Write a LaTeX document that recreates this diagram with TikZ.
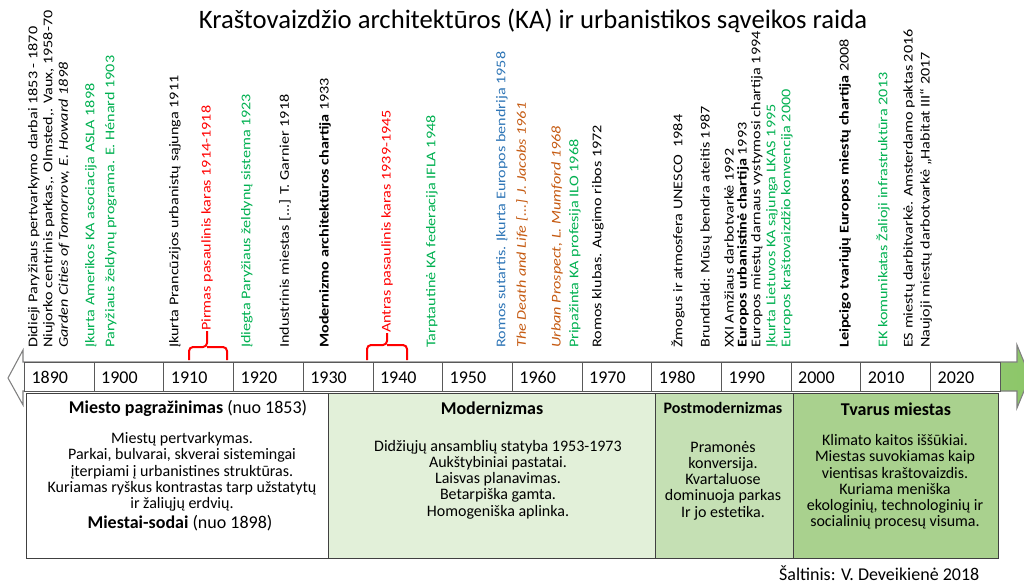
\documentclass[tikz,border=0pt]{standalone}
\usepackage{fontspec}
\setmainfont{Carlito}
\newfontfamily\eventfont{Carlito}[FakeStretch=1.212]
\usepackage{tikz}
\usetikzlibrary{positioning}
\definecolor{kagreen}{RGB}{0,176,80}
\definecolor{kablue}{RGB}{46,117,182}
\definecolor{kaorange}{RGB}{197,90,17}
\definecolor{phasemod}{RGB}{226,240,217}
\definecolor{phasepost}{RGB}{197,224,180}
\definecolor{phasesust}{RGB}{169,209,142}
\definecolor{arrowgreen}{RGB}{140,198,104}
\definecolor{framegray}{RGB}{64,64,64}
\tikzset{
    event/.style={rotate=90,anchor=west,inner sep=0pt,font=\eventfont\fontsize{10}{10}\selectfont},
    event it/.style={event,font=\eventfont\fontsize{10}{10}\selectfont\itshape},
    green event/.style={event,text=kagreen},
    war/.style={event,text=red},
    war brace/.style={red,line width=1.5pt,rounded corners=3pt},
    year cell/.style={draw=gray!70!black,line width=0.8pt,fill=white,anchor=north west,
        minimum width=52.3pt,minimum height=21.75pt,text width=41.8pt,inner xsep=5.25pt,
        text height=9pt,text depth=0pt,align=left,font=\fontsize{13.5}{14}\selectfont},
    phase box/.style={draw=framegray,line width=1.1pt,anchor=north west,minimum height=123.75pt},
    phase title/.style={font=\fontsize{13.5}{14}\selectfont},
    phase text/.style={align=center,font=\fontsize{12}{12.2}\selectfont},
}
\tikzstyle{every node}=[font=\fontsize{12}{12}\selectfont]
\begin{document}
\begin{tikzpicture}[x=0.75pt,y=-0.75pt]
    \useasboundingbox (0,0) rectangle (1024,586);

    % title
    \node[font=\fontsize{20}{22}\selectfont] (title) at (533,21)
        {Kraštovaizdžio architektūros (KA) ir urbanistikos sąveikos raida};

    % time arrow
    \shade[left color=white,right color=arrowgreen,draw=gray,line width=0.8pt]
        (8,378) -- (23,350) -- (23,362) -- (1017,362) -- (1017,345) -- (1030,376.5)
        -- (1017,408) -- (1017,391) -- (23,391) -- (23,405) -- cycle;
    \foreach \yr [count=\i from 0] in {1890,1900,...,2020}
        \node[year cell] (y\yr) at (24+\i*69.7,362) {\yr};

    % events before 1930
    \node[event] (e1853) at (34,348) {Didieji Paryžiaus pertvarkymo darbai 1853 - 1870};
    \node[event] (e1858) at (49,348) {Niujorko centrinis parkas,. Olmsted,. Vaux, 1958-70};
    \node[event it] (e1898) at (64,348) {Garden Cities of Tomorrow, E. Howard 1898};
    \node[green event] (asla) at (91,348) {Įkurta Amerikos KA asociacija ASLA 1898};
    \node[green event] (e1903) at (111,348) {Paryžiaus želdynų programa. E. Hénard 1903};
    \node[event] (e1911) at (175,348) {Įkurta Prancūzijos urbanistų sąjunga 1911};
    \node[war] (ww1) at (207,331) {Pirmas pasaulinis karas 1914-1918};
    \draw[war brace] (ww1.west) -- ++(0,16) -| ++(-18,13);
    \draw[war brace] (ww1.west) ++(0,16) -| ++(20,13);
    \node[green event] (e1923) at (247,348) {Įdiegta Paryžiaus želdynų sistema 1923};
    \node[event] (e1918) at (285,348) {Industrinis miestas [...] T. Garnier 1918};

    % events 1930--1980
    \node[event] (e1933) at (325,348) {\textbf{Modernizmo architektūros chartija} 1933};
    \node[war] (ww2) at (387,333) {Antras pasaulinis karas 1939-1945};
    \draw[war brace] (ww2.west) -- ++(0,12) -| ++(-20,15);
    \draw[war brace] (ww2.west) ++(0,12) -| ++(20,15);
    \node[green event] (ifla) at (432,348) {Tarptautinė KA federacija IFLA 1948};
    \node[event,text=kablue] (e1958) at (502,348) {Romos sutartis. Įkurta Europos bendrija 1958};
    \node[event it,text=kaorange] (e1961) at (522,348) {The Death and Life [...] J. Jacobs 1961};
    \node[event it,text=kaorange] (e1968) at (557,348) {Urban Prospect, L. Mumford 1968};
    \node[green event] (ilo) at (575,348) {Pripažinta KA profesija ILO 1968};
    \node[event] (e1972) at (598,348) {Romos klubas. Augimo ribos 1972};

    % events after 1980
    \node[event] (e1984) at (678,348) {Žmogus ir atmosfera UNESCO\ \ 1984};
    \node[event] (e1987) at (706,348) {Brundtald: Mūsų bendra ateitis 1987};
    \node[event] (e1992) at (729,348) {XXI Amžiaus darbotvarkė 1992};
    \node[event] (e1993) at (743,348) {\textbf{Europos urbanistinė chartija} 1993};
    \node[event] (e1994) at (757,348) {Europos miestų darnaus vystymosi chartija 1994};
    \node[green event] (lkas) at (772,348) {Įkurta Lietuvos KA sąjunga LKAS 1995};
    \node[green event] (e2000) at (787,348) {Europos kraštovaizdžio konvencija 2000};
    \node[event] (e2008) at (845,348) {\textbf{Leipcigo tvariųjų Europos miestų chartija} 2008};
    \node[green event] (e2013) at (883,348) {EK komunikatas Žalioji infrastruktūra 2013};
    \node[event] (e2016) at (909,348) {ES miestų darbitvarkė. Amsterdamo paktas 2016};
    \node[event] (e2017) at (926,348) {Naujoji miestų darbotvarkė „Habitat III“ 2017};

    % phases
    \node[phase box,fill=white,minimum width=226.5pt] (p1853) at (26,393) {};
    \node[phase box,fill=phasemod,minimum width=245.25pt] (pmod) at (328,393) {};
    \node[phase box,fill=phasepost,minimum width=103.5pt] (ppost) at (655,393) {};
    \node[phase box,fill=phasesust,minimum width=153.75pt] (psust) at (793,393) {};

    \node[phase title] (t1853) at (188,408) {\textbf{Miesto pagražinimas} (nuo 1853)};
    \node[phase text] (b1853) at (182,472) {Miestų pertvarkymas.\\
        Parkai, bulvarai, skverai sistemingai\\ įterpiami į urbanistines struktūras.\\
        Kuriamas ryškus kontrastas tarp užstatytų\\ ir žaliųjų erdvių.};
    \node[phase title] (t1898) at (180,523) {\textbf{Miestai-sodai} (nuo 1898)};

    \node[phase title] (tmod) at (492,408) {\textbf{Modernizmas}};
    \node[phase text] (bmod) at (498,479.5) {Didžiųjų ansamblių statyba 1953-1973\\
        Aukštybiniai pastatai.\\ Laisvas planavimas.\\ Betarpiška gamta.\\ Homogeniška aplinka.};

    \node[phase title,font=\fontsize{12}{12}\selectfont] (tpost) at (723,408) {\textbf{Postmodernizmas}};
    \node[phase text] (bpost) at (723,480.5) {Pramonės\\ konversija.\\ Kvartaluose\\
        dominuoja parkas\\ Ir jo estetika.};

    \node[phase title] (tsust) at (896,409) {\textbf{Tvarus miestas}};
    \node[phase text] (bsust) at (895,482) {Klimato kaitos iššūkiai.\\ Miestas suvokiamas kaip\\
        vientisas kraštovaizdis.\\ Kuriama meniška\\ ekologinių, technologinių ir\\
        socialinių procesų visuma.};

    % source
    \node[anchor=east,font=\fontsize{13.5}{14}\selectfont] (source) at (984,573) {Šaltinis: V. Deveikienė 2018};
\end{tikzpicture}
\end{document}
